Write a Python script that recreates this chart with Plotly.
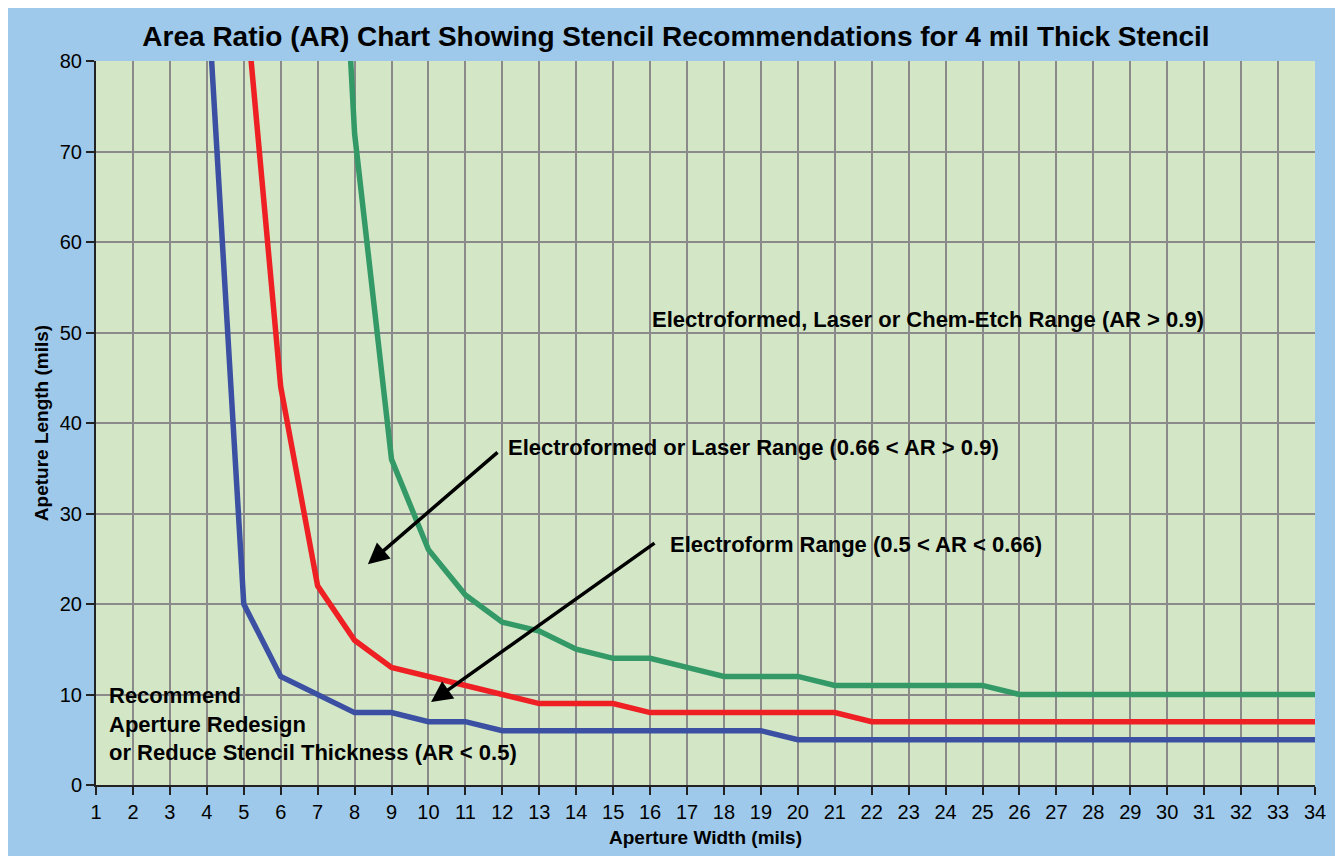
import plotly.graph_objects as go

# ---- data ----
widths = list(range(1, 35))
blue_ar05 = [None, None, None, 89, 20, 12, 10, 8, 8, 7, 7, 6, 6, 6, 6, 6, 6, 6, 6, 5,
             5, 5, 5, 5, 5, 5, 5, 5, 5, 5, 5, 5, 5, 5]
red_ar066 = [None, None, None, None, 89, 44, 22, 16, 13, 12, 11, 10, 9, 9, 9, 8, 8, 8, 8, 8,
             8, 7, 7, 7, 7, 7, 7, 7, 7, 7, 7, 7, 7, 7]
green_ar09 = [None, None, None, None, None, None, 148, 72, 36, 26, 21, 18, 17, 15, 14, 14, 13, 12, 12, 12,
              11, 11, 11, 11, 11, 10, 10, 10, 10, 10, 10, 10, 10, 10]

title_text = "Area Ratio (AR) Chart Showing Stencil Recommendations for 4 mil Thick Stencil"
x_title = "Aperture Width (mils)"
y_title = "Apeture Length (mils)"

BG_BLUE = "#9EC9EA"
PLOT_GREEN = "#D3E7C7"
FONT = "Liberation Sans"

fig = go.Figure()
fig.add_trace(go.Scatter(x=widths, y=green_ar09, mode="lines", line=dict(color="#339966", width=5.5),
                         connectgaps=False, showlegend=False))
fig.add_trace(go.Scatter(x=widths, y=red_ar066, mode="lines", line=dict(color="#EE2024", width=5.5),
                         connectgaps=False, showlegend=False))
fig.add_trace(go.Scatter(x=widths, y=blue_ar05, mode="lines", line=dict(color="#3B50A2", width=5.5),
                         connectgaps=False, showlegend=False))

txt_font = dict(family=FONT, size=22, color="black")
annotations = [
    dict(x=16.0, y=51.4, xref="x", yref="y", text="<b>Electroformed, Laser or Chem-Etch Range (AR > 0.9)</b>",
         showarrow=False, xanchor="left", yanchor="middle", font=txt_font),
    dict(x=12.1, y=37.3, xref="x", yref="y", text="<b>Electroformed or Laser Range (0.66 < AR > 0.9)</b>",
         showarrow=False, xanchor="left", yanchor="middle", font=txt_font),
    dict(x=16.48, y=26.6, xref="x", yref="y", text="<b>Electroform Range (0.5 < AR < 0.66)</b>",
         showarrow=False, xanchor="left", yanchor="middle", font=txt_font),
    dict(x=1.3, y=6.7, xref="x", yref="y",
         text="<b>Recommend<br>Aperture Redesign<br>or Reduce Stencil Thickness (AR < 0.5)</b>",
         showarrow=False, xanchor="left", yanchor="middle", align="left", font=txt_font),
    # arrows
    dict(x=8.36, y=24.4, ax=11.91, ay=36.9, xref="x", yref="y", axref="x", ayref="y", text="",
         showarrow=True, arrowhead=2, arrowsize=1.2, arrowwidth=3.5, arrowcolor="black"),
    dict(x=10.07, y=9.17, ax=16.16, ay=26.85, xref="x", yref="y", axref="x", ayref="y", text="",
         showarrow=True, arrowhead=2, arrowsize=1.2, arrowwidth=3.5, arrowcolor="black"),
]

# figure sized so that, with the page's 8px body margin, the plot lands where the reference's does
W, H = 1335, 848
fig.update_layout(
    width=W, height=H,
    margin=dict(l=88, r=28, t=53, b=71),
    paper_bgcolor=BG_BLUE, plot_bgcolor=PLOT_GREEN,
    title=dict(text="<b>" + title_text + "</b>", x=(676 - 8) / W, xanchor="center",
               y=1 - 28 / H, yanchor="middle", font=dict(family=FONT, size=28, color="black")),
    annotations=annotations,
    font=dict(family=FONT, color="black"),
)
fig.update_xaxes(range=[1, 34], tickmode="linear", tick0=1, dtick=1,
                 showgrid=True, gridcolor="#8A8A8A", gridwidth=1.5,
                 showline=True, linecolor="#222222", linewidth=2,
                 ticks="outside", ticklen=8, tickcolor="#222222", tickwidth=1.5,
                 tickfont=dict(size=20, family=FONT), zeroline=False,
                 title=dict(text="<b>" + x_title + "</b>", font=dict(size=19, family=FONT), standoff=9))
fig.update_yaxes(range=[0, 80], tickmode="linear", tick0=0, dtick=10,
                 showgrid=True, gridcolor="#8A8A8A", gridwidth=1.5,
                 showline=True, linecolor="#222222", linewidth=2,
                 ticks="outside", ticklen=8, tickcolor="#222222", tickwidth=1.5,
                 tickfont=dict(size=20, family=FONT), zeroline=False,
                 title=dict(text="<b>" + y_title + "</b>", font=dict(size=19, family=FONT), standoff=6))

fig.write_html("out.html")
